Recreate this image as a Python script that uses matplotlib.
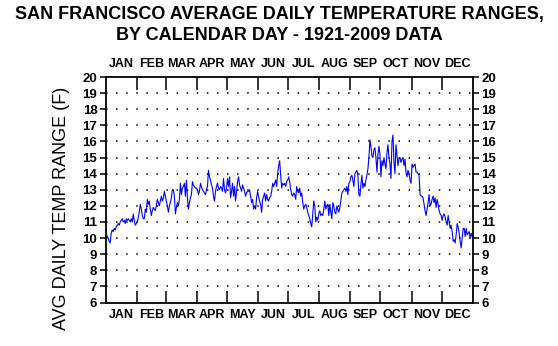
import matplotlib
matplotlib.use("Agg")
import matplotlib.pyplot as plt
import numpy as np

# daily values, split by month (leap-year calendar, 366 days)
jan = [10.3, 10.1, 10.0, 9.8, 9.7, 10.3, 10.5, 10.4, 10.6, 10.5, 10.7, 10.8, 10.9, 10.8, 11.0, 11.1,
       11.2, 11.0, 11.1, 10.9, 11.2, 11.1, 11.2, 11.1, 11.0, 11.2, 11.0, 11.5, 11.1, 10.8, 10.9]
feb = [11.0, 11.3, 11.6, 12.1, 11.8, 11.4, 11.2, 11.2, 11.8, 11.6, 12.4, 12.1, 12.3, 11.8, 11.4,
       11.7, 11.9, 11.8, 11.7, 12.0, 12.4, 12.2, 12.0, 12.3, 12.6, 12.3, 12.5, 12.9, 12.6]
mar = [12.3, 12.0, 11.6, 12.0, 12.2, 12.5, 13.0, 13.0, 12.6, 11.5, 11.9, 12.2, 12.0, 12.4, 13.4, 12.7,
       13.1, 13.2, 13.4, 12.6, 13.6, 12.5, 11.8, 12.2, 12.5, 12.7, 13.5, 13.3, 13.2, 13.1, 13.1]
apr = [13.0, 12.7, 12.9, 13.4, 13.2, 13.0, 12.9, 12.8, 12.7, 13.0, 13.2, 14.2, 13.8, 13.6, 13.3,
       13.1, 12.6, 12.3, 12.9, 13.2, 13.4, 13.1, 13.0, 13.2, 13.1, 12.9, 13.7, 13.0, 12.8, 13.1]
may = [13.7, 13.2, 13.8, 12.5, 12.9, 13.4, 12.6, 13.2, 12.3, 12.9, 13.5, 13.8, 13.3, 13.1, 12.9, 13.3,
       13.1, 12.9, 12.6, 12.8, 12.9, 12.9, 13.0, 12.6, 12.2, 12.4, 11.8, 12.0, 11.8, 12.5, 12.9]
jun = [12.6, 12.3, 12.1, 11.6, 12.4, 12.6, 12.8, 12.3, 12.7, 12.4, 12.3, 12.5, 12.6, 12.9, 13.4,
       13.2, 13.4, 13.6, 13.2, 14.0, 14.5, 14.8, 13.9, 13.1, 13.4, 13.3, 13.4, 13.2, 13.5, 13.6]
jul = [13.8, 13.5, 13.0, 12.7, 12.6, 12.8, 12.7, 12.4, 13.2, 12.9, 12.8, 13.1, 12.6, 12.8, 12.2, 11.8,
       12.0, 12.1, 11.9, 11.6, 11.4, 11.2, 10.9, 10.7, 11.5, 12.3, 12.0, 11.0, 11.3, 11.1, 11.5]
aug = [11.7, 11.4, 11.5, 11.4, 11.8, 12.3, 11.8, 12.0, 12.1, 11.4, 12.1, 11.6, 11.2, 12.2, 12.0, 11.6,
       11.5, 12.0, 11.8, 11.6, 11.9, 12.3, 12.8, 12.9, 13.0, 13.1, 12.9, 13.2, 12.7, 13.4, 13.5]
sep = [13.8, 13.9, 13.6, 13.2, 14.0, 14.1, 14.2, 13.9, 12.7, 12.6, 13.3, 13.9, 13.1, 13.4, 13.2,
       13.6, 13.9, 14.3, 15.0, 16.1, 15.7, 15.1, 15.0, 15.5, 15.6, 15.0, 14.1, 15.2, 15.7, 15.2]
oct_ = [13.8, 14.8, 14.5, 15.0, 14.6, 14.3, 15.3, 15.8, 15.0, 14.6, 13.7, 16.0, 16.4, 14.7, 14.0, 15.8,
        15.1, 14.5, 14.9, 15.0, 14.7, 14.9, 15.0, 14.5, 14.9, 14.1, 13.8, 14.2, 14.0, 13.6, 13.4]
nov = [14.6, 14.4, 14.5, 14.6, 14.1, 14.1, 14.0, 13.9, 12.7, 12.6, 12.6, 12.5, 12.1, 11.7, 11.4,
       11.8, 12.2, 12.7, 12.0, 12.1, 12.4, 12.6, 12.2, 12.5, 11.9, 12.4, 12.1, 11.7, 11.5, 11.4]
dec = [11.1, 11.4, 11.5, 11.3, 11.0, 10.8, 11.4, 11.0, 10.6, 10.8, 10.4, 9.8, 9.9, 9.7, 10.2, 10.9,
       10.7, 10.3, 9.8, 9.4, 10.0, 10.6, 10.6, 10.1, 10.6, 10.2, 10.3, 10.4, 10.0, 10.3, 10.1]

months = ['JAN', 'FEB', 'MAR', 'APR', 'MAY', 'JUN', 'JUL', 'AUG', 'SEP', 'OCT', 'NOV', 'DEC']
y_ticks = list(range(6, 21))

data = [jan, feb, mar, apr, may, jun, jul, aug, sep, oct_, nov, dec]
temps = np.concatenate(data)
lengths = [len(m) for m in data]
bounds = np.cumsum([0] + lengths)
days = np.arange(len(temps)) + 0.5
mids = (bounds[:-1] + bounds[1:]) / 2

tick_font = ['Liberation Sans Narrow', 'Liberation Sans', 'DejaVu Sans']

fig = plt.figure(figsize=(5.58, 3.46), dpi=100)
ax = fig.add_axes([105.7 / 558, 1 - 302.5 / 346, 367 / 558, 225.5 / 346])

ax.plot(days, temps, color='#0000ff', linewidth=0.8)

ax.set_xlim(0, bounds[-1])
ax.set_ylim(6, 20)

# dotted horizontal lines
for y in y_ticks[1:-1]:
    ax.axhline(y, color='black', linewidth=1.1, linestyle=(0, (1, 5.6)), zorder=0)

# month boundaries as inward ticks, names in between
ax.set_xticks(bounds[1:-1])
ax.set_xticklabels([])
ax.set_xticks(mids, minor=True)
ax.set_xticklabels(months, minor=True)
ax.tick_params(axis='x', which='major', direction='in', length=9, width=1.1,
               top=True, bottom=True)
ax.tick_params(axis='x', which='minor', length=0, top=True, bottom=True,
               labeltop=True, labelbottom=True, pad=5)

ax.set_yticks(y_ticks)
ax.tick_params(axis='y', which='major', direction='out', length=4, width=1.1,
               left=True, right=True, labelleft=True, labelright=True, pad=2)

for lab in ax.get_xticklabels(minor=True) + ax.get_yticklabels():
    lab.set_family(tick_font)
    lab.set_fontweight('bold')
    lab.set_fontsize(9)
for lab in ax.get_yticklabels():
    lab.set_fontsize(9.5)

for s in ax.spines.values():
    s.set_linewidth(1.3)

fig.text(0.5, 1 - 14 / 346, 'SAN FRANCISCO AVERAGE DAILY TEMPERATURE RANGES,',
         ha='center', va='center', fontsize=13, fontweight='bold', family='Liberation Sans')
fig.text(0.5, 1 - 35 / 346, 'BY CALENDAR DAY - 1921-2009 DATA',
         ha='center', va='center', fontsize=13, fontweight='bold', family='Liberation Sans')
fig.text(62 / 558, 1 - 208 / 346, 'AVG DAILY TEMP RANGE (F)', rotation=90,
         ha='center', va='center', fontsize=13, family='Liberation Sans')

fig.savefig('out.png', dpi=100)
